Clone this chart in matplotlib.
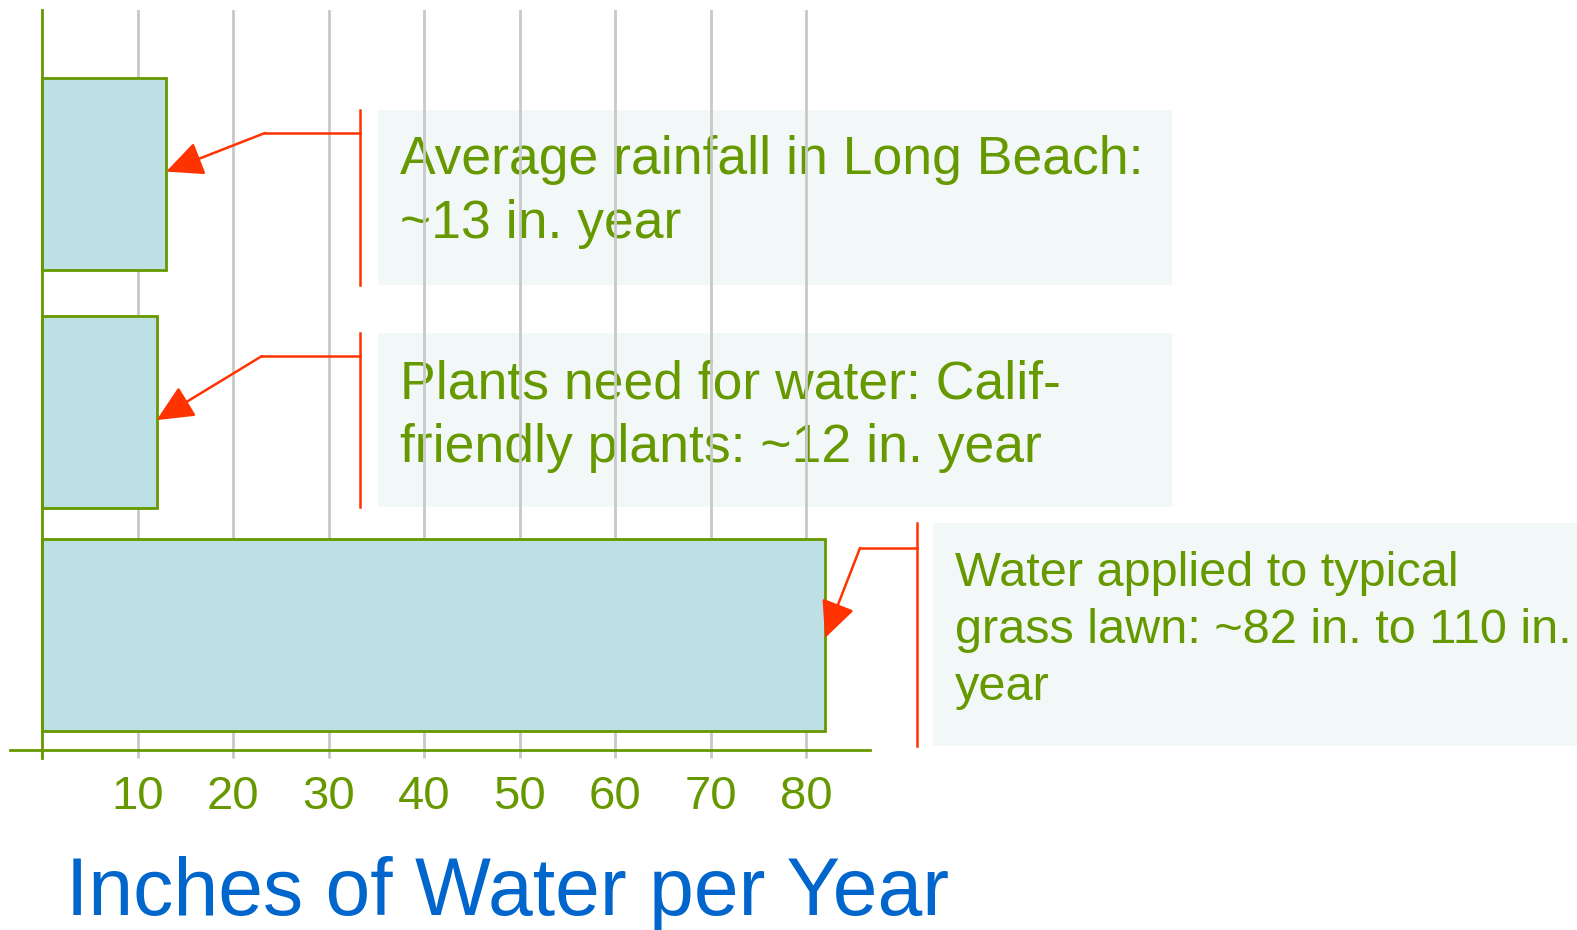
import matplotlib
matplotlib.use("Agg")
import matplotlib.pyplot as plt
from matplotlib.patches import Rectangle
from matplotlib.lines import Line2D

plt.rcParams["font.family"] = ["Liberation Sans", "DejaVu Sans"]

# data
CATS = ["Average rainfall in Long Beach:\n~13 in. year",
        "Plants need for water: Calif-\nfriendly plants: ~12 in. year",
        "Water applied to typical\ngrass lawn: ~82 in. to 110 in.\nyear"]
VALUES = [13, 12, 82]
TICKS = [0, 10, 20, 30, 40, 50, 60, 70, 80]
TICK_LABELS = ["", "10", "20", "30", "40", "50", "60", "70", "80"]

GREEN = "#669900"
RED = "#ff3300"
BLUE = "#0066cc"
FILL = "#bce0e3"
BOXFILL = "#f2f7f7"
GRID = "#c8c8c8"

W, H = 1577, 930
fig = plt.figure(figsize=(W / 100, H / 100), dpi=100)


def fx(px):
    return px / W


def fy(py):
    return 1 - py / H


# axes spans pixel x 10..870, y 10..750
ax = fig.add_axes([fx(10), fy(750), fx(870) - fx(10), fy(10) - fy(750)])
ax.set_xlim(-32 / 9.55, 828 / 9.55)
ax.set_ylim(2.499, -0.711)

BAR_Y = [0, 1.033, 2.0]   # bar rows are not quite evenly spaced
ax.barh(BAR_Y, VALUES, height=0.83, color=FILL, edgecolor=GREEN, lw=2, zorder=2)

for t in TICKS[1:]:
    ax.axvline(t, color=GRID, lw=2, zorder=1)
ax.axvline(0, color=GREEN, lw=2, zorder=3, ymin=-8 / 740, clip_on=False)

for s in ["top", "right", "left"]:
    ax.spines[s].set_visible(False)
ax.spines["bottom"].set_color(GREEN)
ax.spines["bottom"].set_linewidth(2)
ax.spines["bottom"].set_zorder(4)
ax.set_yticks([])
ax.set_xticks(TICKS)
ax.set_xticklabels(TICK_LABELS)
ax.tick_params(axis="x", length=6, width=2, color=GRID, labelcolor=GREEN,
               labelsize=34, pad=12)
ax.get_xticklines()[0].set_color(GREEN)
ax.set_facecolor("none")

fig.text(fx(66), fy(915), "Inches of Water per Year", color=BLUE, fontsize=58,
         ha="left", va="baseline")

# callout boxes: (box x0, x1, y0, y1), bracket x, elbow (x, y),
# text position (left, last-line baseline), font size
CALLOUTS = [
    ((378, 1172, 110, 285), 360, (265, 133), (400, 238), 38.5),
    ((378, 1172, 333, 507), 360, (262, 356), (400, 462), 38.5),
    ((933, 1577, 523, 746), 917, (860, 548), (955, 700), 35),
]
TIP_DY = [-0.01, 0.035, 0.013]

tf = fig.transFigure
for i, ((x0, x1, y0, y1), bx, (ex, ey), (tx, ty), fs) in enumerate(CALLOUTS):
    ax.add_patch(Rectangle((fx(x0), fy(y1)), fx(x1) - fx(x0), fy(y0) - fy(y1),
                           transform=tf, facecolor=BOXFILL, edgecolor="none",
                           zorder=0.5, clip_on=False))
    ax.text(fx(tx), fy(ty), CATS[i], transform=tf, color=GREEN, fontsize=fs,
            ha="left", va="baseline", linespacing=1.35, zorder=0.8, clip_on=False)
    ax.add_line(Line2D([fx(bx), fx(bx)], [fy(y0), fy(y1)], transform=tf,
                       color=RED, lw=1.8, zorder=5, clip_on=False))
    ax.add_line(Line2D([fx(ex), fx(bx)], [fy(ey), fy(ey)], transform=tf,
                       color=RED, lw=1.8, zorder=5, clip_on=False))
    ax.annotate("", xy=(VALUES[i], BAR_Y[i] + TIP_DY[i]), xycoords="data",
                xytext=(fx(ex), fy(ey)), textcoords="figure fraction",
                arrowprops=dict(arrowstyle="-|>,head_length=0.6,head_width=0.28",
                                color=RED, lw=1.8, mutation_scale=38,
                                shrinkA=0, shrinkB=0),
                zorder=6, annotation_clip=False)

fig.savefig("out.png", dpi=100)
